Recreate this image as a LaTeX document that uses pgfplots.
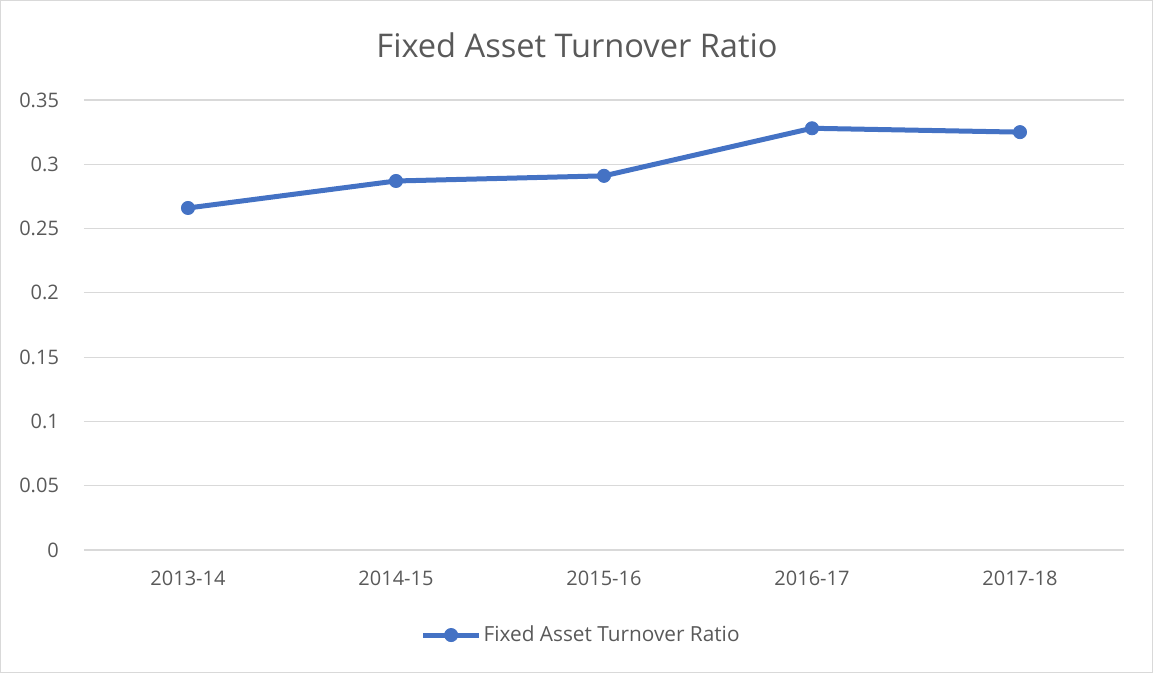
\documentclass[border=0pt]{standalone}
\usepackage{pgfplots}
\pgfplotsset{compat=1.18}
\usepackage{fontspec}
\setmainfont{Open Sans}
\definecolor{serie}{HTML}{4472C4}
\definecolor{gridc}{HTML}{D9D9D9}
\definecolor{txt}{HTML}{595959}
\begin{document}
\begin{tikzpicture}
\useasboundingbox (-42pt,-61.5pt) rectangle (534.5pt,275pt);
\draw[gridc, line width=0.6pt] (-41.7pt,-61.2pt) rectangle (534.2pt,274.7pt);
\begin{axis}[
  at={(0,0)}, anchor=south west,
  scale only axis, width=520pt, height=225pt,
  xmin=-0.5, xmax=4.5, ymin=0, ymax=0.35,
  xtick={0,1,2,3,4},
  xticklabels={2013-14,2014-15,2015-16,2016-17,2017-18},
  ytick={0,0.05,0.1,0.15,0.2,0.25,0.3,0.35},
  yticklabels={0,0.05,0.1,0.15,0.2,0.25,0.3,0.35},
  ymajorgrids, grid style={gridc, line width=0.6pt},
  axis line style={draw=none},
  major tick length=0pt,
  tick label style={font=\fontsize{10}{12}\selectfont, text=txt},
  yticklabel style={xshift=-9pt},
  xticklabel style={yshift=-7pt},
  /pgf/number format/assume math mode=true,
  legend style={at={(0.478,-0.189)}, anchor=center, draw=none, fill=none,
    font=\fontsize{10.4}{12}\selectfont, text=txt, inner sep=0pt,
    nodes={inner xsep=1pt}},
  legend cell align=left,
  legend image code/.code={
    \draw[#1, mark repeat=2, mark phase=2] plot coordinates {(0pt,0pt) (14pt,0pt) (28pt,0pt)};
  },
  clip=false,
]
\addplot[serie, line width=2.5pt, mark=*, mark size=3.3pt, mark options={fill=serie, draw=serie, line width=0.4pt}]
coordinates {(0,0.266) (1,0.287) (2,0.291) (3,0.328) (4,0.325)};
\addlegendentry{Fixed Asset Turnover Ratio}
\end{axis}
\node[text=txt, font=\fontsize{16.3}{19}\selectfont] at (246.5pt,252.5pt) {Fixed Asset Turnover Ratio};
\end{tikzpicture}
\end{document}
